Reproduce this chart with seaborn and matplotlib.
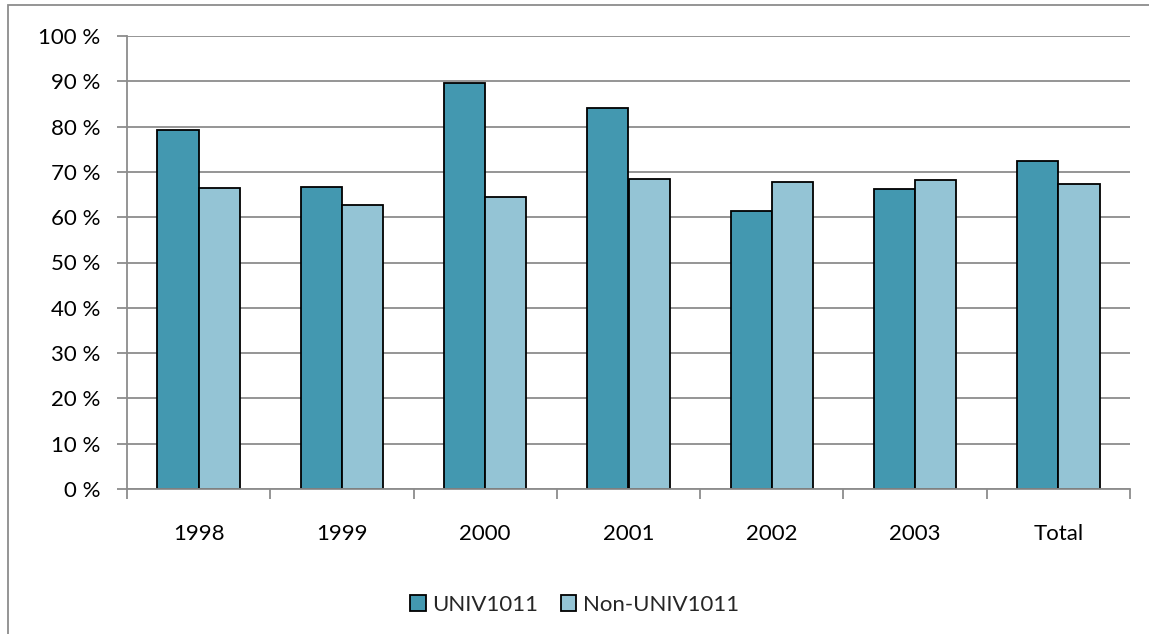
import matplotlib
matplotlib.use("Agg")
import matplotlib.pyplot as plt
import matplotlib.ticker as mticker
from matplotlib.patches import Rectangle
import seaborn as sns
import pandas as pd

categories = ["1998", "1999", "2000", "2001", "2002", "2003", "Total"]
series_names = ["UNIV1011", "Non-UNIV1011"]
univ = [79.3, 66.6, 89.7, 84.0, 61.3, 66.3, 72.4]
non_univ = [66.5, 62.6, 64.4, 68.5, 67.7, 68.3, 67.4]
y_ticks = list(range(0, 101, 10))

rows = []
for c, v in zip(categories, univ):
    rows.append({"cat": c, "series": series_names[0], "val": v})
for c, v in zip(categories, non_univ):
    rows.append({"cat": c, "series": series_names[1], "val": v})
df = pd.DataFrame(rows)

sns.set_theme(style="white")
plt.rcParams["font.family"] = ["Lato", "DejaVu Sans"]

fig = plt.figure(figsize=(11.49, 6.34), dpi=100)
ax = fig.add_axes([127 / 1149, 1 - 489 / 634, (1130 - 127) / 1149, (489 - 36) / 634])

palette = {series_names[0]: "#4398B0", series_names[1]: "#94C4D5"}
sns.barplot(data=df, x="cat", y="val", hue="series", order=categories,
            hue_order=series_names, palette=palette, width=0.575, gap=0,
            edgecolor="black", linewidth=1.3, saturation=1, ax=ax, legend=True, errorbar=None)

ax.set_ylim(0, 100)
ax.set_xlim(-0.5, len(categories) - 0.5)
ax.set_yticks(y_ticks)
ax.yaxis.set_major_formatter(mticker.FuncFormatter(lambda v, p: f"{int(v)} %"))
ax.yaxis.grid(True, color="#8c8c8c", linewidth=1.3)
ax.set_axisbelow(True)
ax.set_xlabel("")
ax.set_ylabel("")

for s in ["top", "right"]:
    ax.spines[s].set_visible(False)
for s in ["left", "bottom"]:
    ax.spines[s].set_color("#8c8c8c")
    ax.spines[s].set_linewidth(1.3)

FS = 16
ax.tick_params(axis="y", which="major", length=7, width=1.3, color="#8c8c8c",
               labelsize=FS, pad=12, labelcolor="black", left=True)
ax.tick_params(axis="x", which="major", length=0, labelsize=FS, pad=25, labelcolor="black")
ax.set_xticks([i - 0.5 for i in range(len(categories) + 1)], minor=True)
ax.tick_params(axis="x", which="minor", length=7, width=1.3, color="#8c8c8c", bottom=True)

leg = ax.get_legend()
handles = leg.legend_handles
leg.remove()
fig.legend(handles, series_names, loc="center", bbox_to_anchor=(0.5, 1 - 605 / 634),
           ncol=2, frameon=False, fontsize=FS, handlelength=0.7, handleheight=0.7,
           handletextpad=0.3, columnspacing=1.0)

fig.patches.append(Rectangle((8 / 1149, -0.1), 1.2, 1 - 5 / 634 + 0.1,
                             transform=fig.transFigure, fill=False,
                             edgecolor="#8c8c8c", linewidth=1.3))

fig.savefig("out.png", dpi=100)
